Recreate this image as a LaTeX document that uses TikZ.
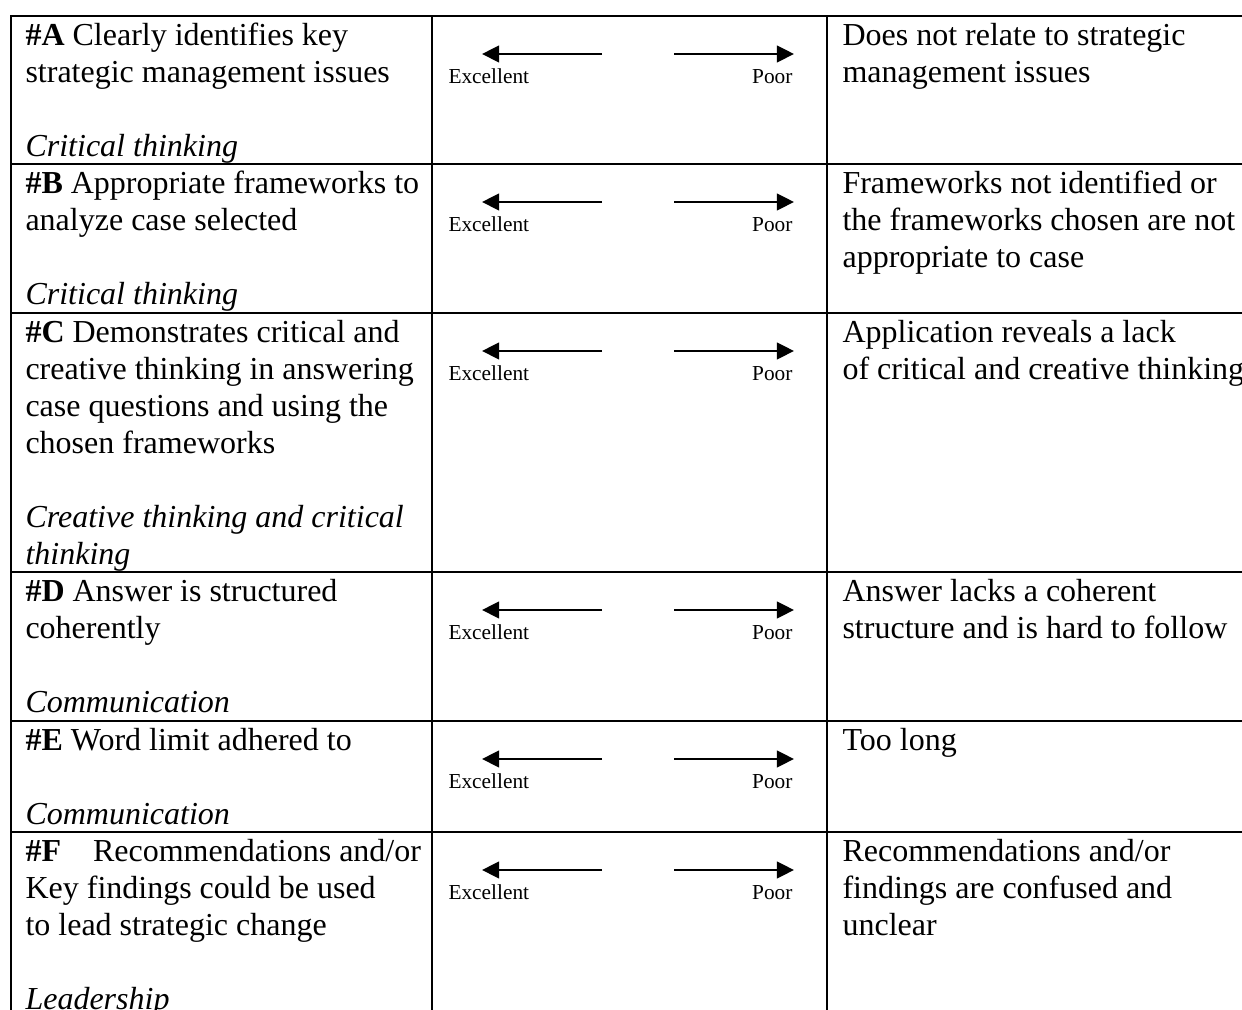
\documentclass[tikz,border=0pt]{standalone}
\usepackage{fontspec}
\setmainfont{Liberation Serif}
\usetikzlibrary{arrows.meta}
\begin{document}
\begin{tikzpicture}[x=0.375pt,y=-0.375pt,
  rule/.style={line width=0.9pt,line cap=rect},
  crit/.style={anchor=base west,inner sep=0pt,text width=420pt,align=flush left,
    font=\fontsize{12}{13.875}\selectfont},
  small/.style={inner sep=0pt,font=\fontsize{8}{9.6}\selectfont},
  scale arrow/.style={line width=0.95pt,-{Triangle[length=6.4pt,width=6.2pt]}}]
\useasboundingbox (0,0) rectangle (1242,1010);
\fill[white] (0,0) rectangle (1242,1010);
% grid
\foreach \y in {16,164,313,572,721,832} \draw[rule] (11,\y) -- (1242,\y);
\foreach \x in {11,432,827} \draw[rule] (\x,16) -- (\x,1010);
% left column
\node[crit] (cA) at (25,46) {\textbf{\#A} Clearly identifies key\\strategic management issues\\[13.875pt]\textit{Critical thinking}};
\node[crit] (cB) at (25,194) {\textbf{\#B} Appropriate frameworks to\\analyze case selected\\[13.875pt]\textit{Critical thinking}};
\node[crit] (cC) at (25,343) {\textbf{\#C} Demonstrates critical and\\creative thinking in answering\\case questions and using the\\chosen frameworks\\[13.875pt]\textit{Creative thinking and critical}\\\textit{thinking}};
\node[crit] (cD) at (25,602) {\textbf{\#D} Answer is structured\\coherently\\[13.875pt]\textit{Communication}};
\node[crit] (cE) at (25,751) {\textbf{\#E} Word limit adhered to\\[13.875pt]\textit{Communication}};
\node[crit] (cF) at (25,862) {\textbf{\#F}\hspace*{12pt}Recommendations and/or\\Key findings could be used\\to lead strategic change\\[13.875pt]\textit{Leadership}};
% right column
\node[crit] (pA) at (842,46) {Does not relate to strategic\\management issues};
\node[crit] (pB) at (842,194) {Frameworks not identified or\\the frameworks chosen are not\\appropriate to case};
\node[crit] (pC) at (842,343) {Application reveals a lack\\of critical and creative thinking};
\node[crit] (pD) at (842,602) {Answer lacks a coherent\\structure and is hard to follow};
\node[crit] (pE) at (842,751) {Too long};
\node[crit] (pF) at (842,862) {Recommendations and/or\\findings are confused and\\unclear};
% middle column scales
\foreach \t/\n in {16/A,164/B,313/C,572/D,721/E,832/F}{
  \coordinate (ls\n) at (602,\t+38);
  \coordinate (le\n) at (482,\t+38);
  \coordinate (rs\n) at (674,\t+38);
  \coordinate (re\n) at (794,\t+38);
  \draw[scale arrow] (ls\n) -- (le\n);
  \draw[scale arrow] (rs\n) -- (re\n);
  \node[small,anchor=base west] (ex\n) at (448,\t+68) {Excellent};
  \node[small,anchor=base east] (po\n) at (793,\t+68) {Poor};
}
\end{tikzpicture}
\end{document}
